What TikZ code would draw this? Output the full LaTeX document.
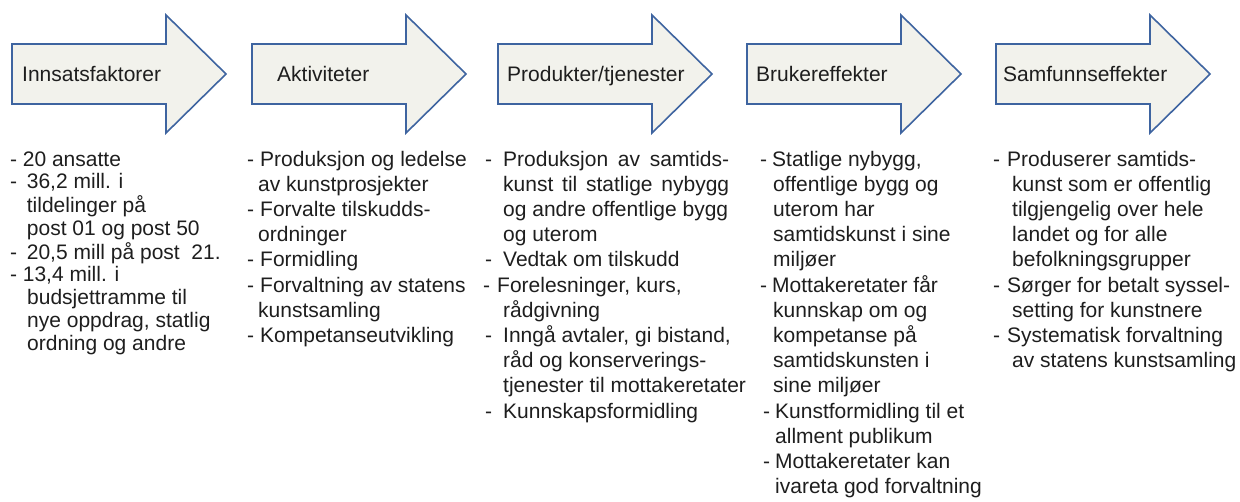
\documentclass[tikz,border=0pt]{standalone}
\usepackage{fontspec}
\setmainfont{Liberation Sans}
\definecolor{arrowblue}{RGB}{62,100,160}
\definecolor{arrowfill}{RGB}{242,242,236}
\definecolor{txt}{RGB}{30,30,30}
\newcommand{\dl}[2]{\makebox[#1][l]{-}#2}
\newcommand{\cl}[2]{\hspace*{#1}#2}
\newcommand{\jl}[2]{\makebox[#1][s]{#2}}
\begin{document}
\begin{tikzpicture}[x=1pt,y=-1pt,
  bigarrow/.style={draw=arrowblue, fill=arrowfill, line width=1.6pt, line join=miter},
  headlabel/.style={anchor=base west, inner sep=0pt, text=txt, font=\fontsize{21}{25}\selectfont},
  listtext/.style={anchor=base west, inner sep=0pt, text=txt, font=\fontsize{21}{25.2}\selectfont},
  listtight/.style={anchor=base west, inner sep=0pt, text=txt, font=\fontsize{21}{22.8}\selectfont}]
\useasboundingbox (0,0) rectangle (1240,501);
\foreach \L in {12,252,498,747,996} {
  \draw[bigarrow] (\L,44) -- (\L+154,44) -- (\L+154,15) -- (\L+214,74) -- (\L+154,133) -- (\L+154,104) -- (\L,104) -- cycle;
}
\node[headlabel] (l1) at (22,81) {Innsatsfaktorer};
\node[headlabel] (l2) at (277,81) {Aktiviteter};
\node[headlabel] (l3) at (507,81) {Produkter/tjenester};
\node[headlabel] (l4) at (756,81) {Brukereffekter};
\node[headlabel] (l5) at (1003,81) {Samfunnseffekter};

\node[listtight] (c1) at (10,166) {\begin{tabular}[t]{@{}l@{}}
\dl{12.7pt}{20 ansatte}\\
\dl{16.7pt}{36,2 mill. i}\\
\cl{16.7pt}{tildelinger på}\\
\cl{16.7pt}{post 01 og post 50}\\
\dl{16.7pt}{20,5 mill på post\ \ 21.}\\
\dl{12.7pt}{13,4 mill. i}\\
\cl{17pt}{budsjettramme til}\\
\cl{17pt}{nye oppdrag, statlig}\\
\cl{17pt}{ordning og andre}
\end{tabular}};

\node[listtext] (c2) at (247,166) {\begin{tabular}[t]{@{}l@{}}
\dl{13pt}{Produksjon og ledelse}\\
\cl{11pt}{av kunstprosjekter}\\
\dl{13pt}{Forvalte tilskudds-}\\
\cl{11pt}{ordninger}\\
\dl{13pt}{Formidling}\\
\dl{13pt}{Forvaltning av statens}\\
\cl{11pt}{kunstsamling}\\
\dl{13pt}{Kompetanseutvikling}
\end{tabular}};

\node[listtext] (c3) at (485,166) {\begin{tabular}[t]{@{}l@{}}
\dl{18pt}{\jl{226pt}{Produksjon av samtids-}}\\
\cl{18pt}{\jl{226pt}{kunst til statlige nybygg}}\\
\cl{18pt}{og andre offentlige bygg}\\
\cl{18pt}{og uterom}\\
\dl{18pt}{Vedtak om tilskudd}\\
\hspace*{-2pt}\dl{14pt}{Forelesninger, kurs,}\\
\cl{18pt}{rådgivning}\\
\dl{18pt}{Inngå avtaler, gi bistand,}\\
\cl{18pt}{råd og konserverings-}\\
\cl{18pt}{tjenester til mottakeretater}\\
\dl{18pt}{Kunnskapsformidling}
\end{tabular}};

\node[listtext] (c4) at (760,166) {\begin{tabular}[t]{@{}l@{}}
\dl{12pt}{Statlige nybygg,}\\
\cl{13pt}{offentlige bygg og}\\
\cl{13pt}{uterom har}\\
\cl{13pt}{samtidskunst i sine}\\
\cl{13pt}{miljøer}\\
\dl{12pt}{Mottakeretater får}\\
\cl{13pt}{kunnskap om og}\\
\cl{13pt}{kompetanse på}\\
\cl{13pt}{samtidskunsten i}\\
\cl{13pt}{sine miljøer}\\
\hspace*{3pt}\dl{12pt}{Kunstformidling til et}\\
\cl{15pt}{allment publikum}\\
\hspace*{3pt}\dl{12pt}{Mottakeretater kan}\\
\cl{15pt}{ivareta god forvaltning}
\end{tabular}};

\node[listtext] (c5) at (993,166) {\begin{tabular}[t]{@{}l@{}}
\dl{14pt}{Produserer samtids-}\\
\cl{19pt}{kunst som er offentlig}\\
\cl{19pt}{tilgjengelig over hele}\\
\cl{19pt}{landet og for alle}\\
\cl{19pt}{befolkningsgrupper}\\
\dl{14pt}{Sørger for betalt syssel-}\\
\cl{19pt}{setting for kunstnere}\\
\dl{14pt}{Systematisk forvaltning}\\
\cl{19pt}{av statens kunstsamling}
\end{tabular}};
\end{tikzpicture}
\end{document}
